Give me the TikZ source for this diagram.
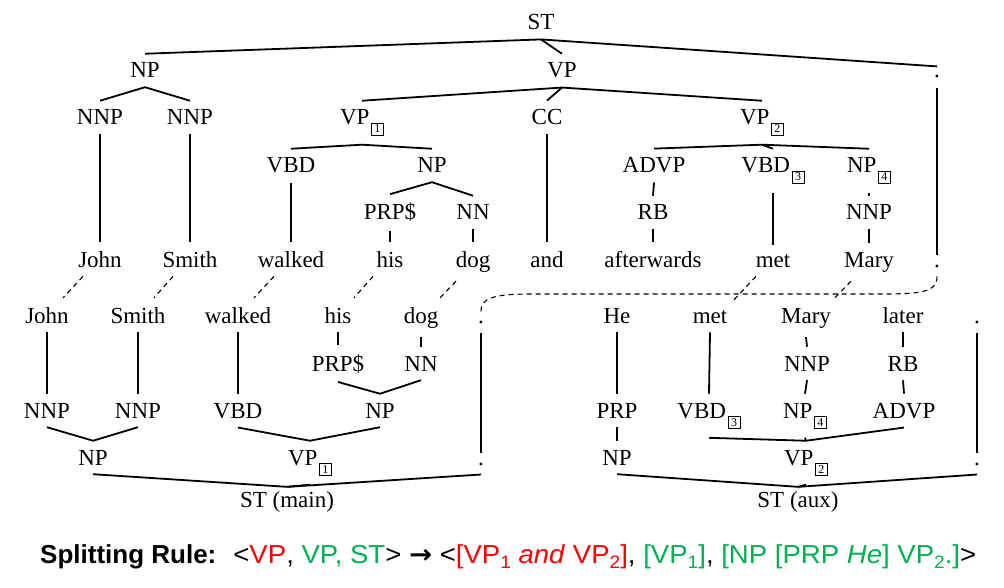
\documentclass[tikz,border=0pt]{standalone}
\usepackage{fontspec}
\setmainfont{Liberation Serif}
\newfontfamily\rulefont{Liberation Sans}
\newfontfamily\arrowfont{DejaVu Sans}
\usetikzlibrary{calc}
\definecolor{rred}{RGB}{255,0,0}
\definecolor{rgreen}{RGB}{0,176,80}
\newcommand{\bn}[1]{\hspace{1.5pt}\raisebox{-8pt}{\fboxsep=1.8pt\fboxrule=0.7pt\fbox{\makebox[8pt]{\fontsize{12}{12}\selectfont #1}}}}
\newcommand{\rsub}[1]{\raisebox{-5pt}{\fontsize{18}{18}\selectfont #1}}
\begin{document}
\begin{tikzpicture}[x=1pt,y=-1pt,
  lbl/.style={anchor=base, inner xsep=0pt, inner ysep=9pt, font=\fontsize{23}{23}\selectfont},
  stlbl/.style={lbl, inner ysep=4pt},
  edge/.style={line width=1.8pt},
  align/.style={line width=1.1pt, dash pattern=on 5pt off 4pt}]
\useasboundingbox (0,0) rectangle (1004,588);
% ---------- top tree ----------
\node[lbl] (ST) at (541,30) {ST};
\node[lbl] (NP) at (145,78) {NP};
\node[lbl] (VP) at (562,78) {VP};
\node[lbl] (tpP) at (937,78) {.};
\node[lbl] (NNPa) at (100,125) {NNP};
\node[lbl] (NNPb) at (190,125) {NNP};
\node[lbl] (VPa) at (362,125) {VP\bn{1}};
\node[lbl] (CC) at (547,125) {CC};
\node[lbl] (VPb) at (762,125) {VP\bn{2}};
\node[lbl] (VBD) at (291,173) {VBD};
\node[lbl] (NPa) at (432,173) {NP};
\node[lbl] (ADVP) at (654,173) {ADVP};
\node[lbl] (VBDc) at (773,173) {VBD\bn{3}};
\node[lbl] (NPd) at (869,173) {NP\bn{4}};
\node[lbl] (PRPS) at (390,220) {PRP\$};
\node[lbl] (NN) at (473,220) {NN};
\node[lbl] (RB) at (653,220) {RB};
\node[lbl] (NNPc) at (869,220) {NNP};
\node[lbl] (tJohn) at (100,267) {John};
\node[lbl] (tSmith) at (190,267) {Smith};
\node[lbl] (twalked) at (291,267) {walked};
\node[lbl] (this) at (390,267) {his};
\node[lbl] (tdog) at (473,267) {dog};
\node[lbl] (tand) at (547,267) {and};
\node[lbl] (tafter) at (653,267) {afterwards};
\node[lbl] (tmet) at (773,267) {met};
\node[lbl] (tMary) at (869,267) {Mary};
\node[lbl] (tdot) at (937,267) {.};
\foreach \p/\c in {ST/NP,ST/VP,ST/tpP,NP/NNPa,NP/NNPb,NNPa/tJohn,NNPb/tSmith,
  VP/VPa,VP/CC,VP/VPb,VPa/VBD,VPa/NPa,VBD/twalked,NPa/PRPS,NPa/NN,PRPS/this,NN/tdog,
  CC/tand,VPb/ADVP,VPb/VBDc,VPb/NPd,ADVP/RB,RB/tafter,VBDc/tmet,NPd/NNPc,NNPc/tMary,tpP/tdot}
  \draw[edge] (\p.south) -- (\c.north);
% ---------- bottom left tree ----------
\node[lbl] (bJohn) at (47,323) {John};
\node[lbl] (bSmith) at (138,323) {Smith};
\node[lbl] (bwalked) at (238,323) {walked};
\node[lbl] (bhis) at (338,323) {his};
\node[lbl] (bdog) at (421,323) {dog};
\node[lbl] (bdot) at (481,323) {.};
\node[lbl] (bPRPS) at (338,371) {PRP\$};
\node[lbl] (bNN) at (421,371) {NN};
\node[lbl] (bNNPa) at (47,418) {NNP};
\node[lbl] (bNNPb) at (138,418) {NNP};
\node[lbl] (bVBD) at (238,418) {VBD};
\node[lbl] (bNPa) at (380,418) {NP};
\node[lbl] (bNP) at (93,465) {NP};
\node[lbl] (bVPa) at (310,465) {VP\bn{1}};
\node[lbl] (bdotP) at (481,465) {.};
\node[stlbl] (STm) at (287,507) {ST (main)};
% ---------- bottom right tree ----------
\node[lbl] (bHe) at (617,323) {He};
\node[lbl] (bmet) at (710,323) {met};
\node[lbl] (bMary) at (806,323) {Mary};
\node[lbl] (blater) at (903,323) {later};
\node[lbl] (bdotb) at (977,323) {.};
\node[lbl] (bNNPc) at (807,371) {NNP};
\node[lbl] (bRB) at (903,371) {RB};
\node[lbl] (bPRP) at (617,418) {PRP};
\node[lbl] (bVBDc) at (709,418) {VBD\bn{3}};
\node[lbl] (bNPd) at (805,418) {NP\bn{4}};
\node[lbl] (bADVP) at (904,418) {ADVP};
\node[lbl] (bNPe) at (617,465) {NP};
\node[lbl] (bVPb) at (806,465) {VP\bn{2}};
\node[lbl] (bdotPb) at (977,465) {.};
\node[stlbl] (STa) at (798,507) {ST (aux)};
\foreach \c/\p in {bJohn/bNNPa,bSmith/bNNPb,bNNPa/bNP,bNNPb/bNP,bwalked/bVBD,bhis/bPRPS,bdog/bNN,
  bPRPS/bNPa,bNN/bNPa,bVBD/bVPa,bNPa/bVPa,bdot/bdotP,bNP/STm,bVPa/STm,bdotP/STm,
  bHe/bPRP,bPRP/bNPe,bmet/bVBDc,bMary/bNNPc,bNNPc/bNPd,blater/bRB,bRB/bADVP,
  bVBDc/bVPb,bNPd/bVPb,bADVP/bVPb,bdotb/bdotPb,bNPe/STa,bVPb/STa,bdotPb/STa}
  \draw[edge] (\c.south) -- (\p.north);
% ---------- alignment links ----------
\draw[align] ($(tJohn.south)+(-17,0)$) -- ($(bJohn.north)+(16,0)$);
\draw[align] ($(tSmith.south)+(-17,0)$) -- ($(bSmith.north)+(16,0)$);
\draw[align] ($(twalked.south)+(-17,0)$) -- ($(bwalked.north)+(16,0)$);
\draw[align] ($(this.south)+(-17,0)$) -- ($(bhis.north)+(16,0)$);
\draw[align] ($(tdog.south)+(-17,0)$) -- ($(bdog.north)+(19,0)$);
\draw[align] ($(tmet.south)+(-17,0)$) -- ($(bmet.north)+(23,0)$);
\draw[align] ($(tMary.south)+(-18,0)$) -- ($(bMary.north)+(28,0)$);
\draw[align] (tdot.south) .. controls +(0,16) and +(40,0) .. (880,294) -- (530,294) .. controls +(-40,0) and +(0,-12) .. (bdot.north);
% ---------- rule ----------
\node[anchor=base west, inner sep=0pt, font=\rulefont\fontsize{26}{26}\selectfont] (rule) at (40,563)
 {\textbf{Splitting Rule:}\hspace{17pt}\scalebox{1.06}[1]{<\textcolor{rred}{VP}, \textcolor{rgreen}{VP, ST}> {\arrowfont\bfseries →} <\textcolor{rred}{[VP\rsub{1} \textit{and} VP\rsub{2}]}, \textcolor{rgreen}{[VP\rsub{1}]}, \textcolor{rgreen}{[NP [PRP \textit{He}] VP\rsub{2}.]}>}};
\end{tikzpicture}
\end{document}
